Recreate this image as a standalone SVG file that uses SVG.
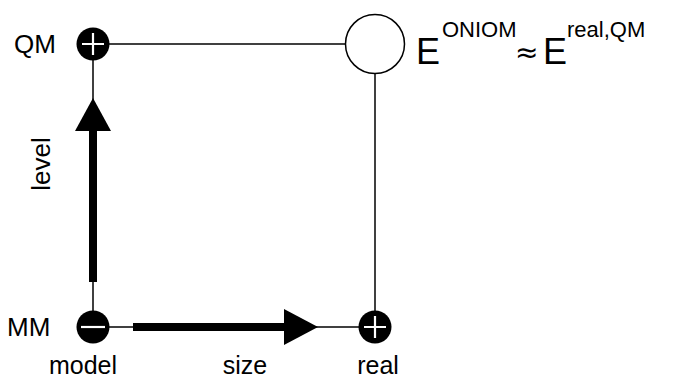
<svg xmlns="http://www.w3.org/2000/svg" width="678" height="381" viewBox="0 0 678 381">
  <style>
    .thin { stroke: #000; stroke-width: 1.5; fill: none; }
    .thick { stroke: #000; stroke-width: 8; fill: none; }
    .dot { fill: #000; }
    .sign { stroke: #fff; stroke-width: 2.2; fill: none; }
    .lbl { font-family: "Liberation Sans", Arial, sans-serif; font-size: 26px; fill: #000; }
    .foot { font-family: "Liberation Sans", Arial, sans-serif; font-size: 25px; fill: #000; }
    .big { font-family: "Liberation Sans", Arial, sans-serif; font-size: 36px; fill: #000; }
    .rel { font-family: "DejaVu Sans", sans-serif; font-size: 28px; fill: #000; }
    .sup { font-family: "Liberation Sans", Arial, sans-serif; font-size: 22px; fill: #000; }
  </style>
  <rect width="678" height="381" fill="#fff"/>

  <!-- connectors -->
  <g id="connectors">
    <line class="thin" x1="93" y1="44" x2="345" y2="44"/>
    <line class="thin" x1="93" y1="44" x2="93" y2="327"/>
    <line class="thin" x1="375" y1="74" x2="375" y2="327"/>
    <line class="thin" x1="93" y1="327" x2="375" y2="327"/>
    <!-- level axis -->
    <line class="thick" x1="93" y1="282" x2="93" y2="128"/>
    <polygon points="93,98 111,131 75,131" fill="#000"/>
    <!-- size axis -->
    <line class="thick" x1="133" y1="327" x2="287" y2="327"/>
    <polygon points="318,327 284,309 284,345" fill="#000"/>
  </g>

  <g id="qm">
    <circle class="dot" cx="93" cy="44" r="16.5"/>
    <path class="sign" d="M82 44H104M93 33V55"/>
  </g>
  <g id="mm">
    <circle class="dot" cx="93" cy="327" r="16.5"/>
    <path class="sign" d="M81 327H105"/>
  </g>
  <g id="real">
    <circle class="dot" cx="375" cy="327" r="16.5"/>
    <path class="sign" d="M364 327H386M375 316V338"/>
  </g>
  <g id="oniom">
    <circle cx="375" cy="44" r="29.5" fill="#fff" stroke="#000" stroke-width="1.5"/>
  </g>

  <g id="labels">
    <text class="lbl" x="14" y="53">QM</text>
    <text class="lbl" x="7" y="336">MM</text>
    <text class="foot" x="83" y="374" text-anchor="middle">model</text>
    <text class="foot" x="245" y="374" text-anchor="middle">size</text>
    <text class="foot" x="378" y="374" text-anchor="middle">real</text>
    <text class="lbl" transform="translate(50 164) rotate(-90)" text-anchor="middle">level</text>
    <text x="416" y="64"><tspan class="big">E</tspan><tspan class="sup" x="442" y="37">ONIOM</tspan><tspan class="rel" x="515" y="62">≈</tspan><tspan class="big" x="543" y="64">E</tspan><tspan class="sup" x="567" y="37">real,QM</tspan></text>
  </g>
</svg>
